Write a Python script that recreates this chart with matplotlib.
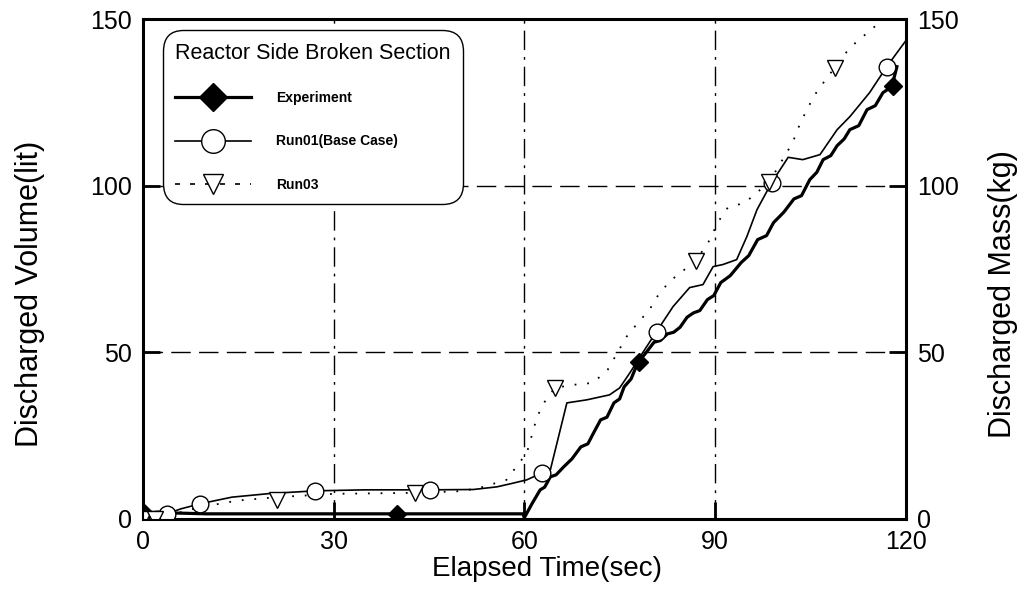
import matplotlib
matplotlib.use("Agg")
import matplotlib.pyplot as plt
from matplotlib.lines import Line2D

plt.rcParams['font.family'] = ['Liberation Sans', 'DejaVu Sans']

# experiment (thick stair-stepped line)
exp_t = [0, 10, 20, 30, 40, 50, 59.8, 60, 61.2, 62.5, 63.2, 64.1, 65.0, 66.2, 67.5, 68.9, 70.0, 70.9,
         72.0, 73.0, 74.1, 75.0, 75.7, 76.8, 77.9, 79.0, 80.4, 81.4, 82.5, 83.5, 84.5, 85.6, 86.6,
         87.6, 88.8, 89.8, 90.9, 92.4, 94.1, 95.3, 96.7, 98.1, 99.2, 100.8, 102.4, 103.6, 104.9,
         106.0, 107.0, 108.2, 109.2, 110.3, 111.2, 112.6, 113.9, 115.2, 116.4, 117.8, 118.6]
exp_v = [2, 1.5, 1.5, 1.5, 1.5, 1.5, 1.5, 0.3, 4.5, 8.7, 9.5, 12.6, 13.2, 15.6, 18.0, 21.6, 22.5, 25.8,
         29.7, 30.5, 34.8, 36.0, 39.6, 42.0, 47.1, 49.5, 53.0, 53.5, 55.5, 56.0, 57.5, 60.5, 61.8,
         62.5, 65.8, 67.0, 70.9, 73.0, 76.9, 79.0, 83.8, 85.0, 88.9, 92.0, 96.0, 97.0, 101.8,
         104.0, 107.8, 109.0, 112.0, 114.0, 116.8, 118.0, 122.8, 124.0, 127.9, 129.7, 135.7]
exp_mark_t = [0, 40, 78, 118]
exp_mark_v = [2, 1.5, 47, 130]

# Run01 (base case)
run01_t = [0, 2.2, 3.8, 6, 9.0, 14, 20, 27.1, 35, 45.1, 52, 55.7, 58, 60.4, 62.8, 64.1, 66.7, 69.8,
           73.4, 75.0, 76.6, 78.6, 80.8, 83.4, 86.0, 88.1, 89.7, 91.2, 93.4, 95.0, 96.6, 98.9, 101.5,
           103.8, 106.5, 109.2, 111.2, 114.3, 117.0, 120]
run01_v = [0, 0, 1.5, 3, 4.5, 6.5, 7.6, 8.4, 8.7, 8.7, 8.8, 9.6, 10.6, 11.7, 13.8, 14.7, 34.8, 35.7,
           37.2, 39.3, 43.8, 49.8, 56.2, 63.7, 69.4, 70.3, 75.7, 76.3, 77.8, 84.7, 92.8, 100.9, 108.5,
           107.8, 109.3, 116.8, 120.7, 127.9, 135.7, 143.5]
run01_mark_t = [0, 2.2, 3.8, 9.0, 27.1, 45.1, 62.8, 80.8, 98.9, 117.0]
run01_mark_v = [0, 0, 1.5, 4.5, 8.4, 8.7, 13.8, 56.2, 100.9, 135.7]

# Run03
run03_t = [0, 2, 4, 9, 15, 21.1, 30, 42.8, 50, 53, 57.2, 60.4, 61.3, 62.0, 63.2, 64.8, 67.6, 70.8,
           73.1, 76.1, 77.9, 79.7, 81.3, 83.2, 85.6, 87.0, 89.2, 90.4, 92.0, 94.7, 98.5, 102.2,
           103.3, 104.6, 106.0, 108.8, 111.2, 113.6, 116.5]
run03_v = [0, 0, 1, 3.5, 5.5, 6.5, 7.5, 7.8, 8.3, 9.3, 11.7, 19.8, 25.8, 30.6, 35.1, 39.3, 40.2, 40.8,
           44.7, 54.7, 58.9, 62.8, 67.9, 71.8, 75.4, 77.5, 83.8, 88.9, 93.4, 94.9, 101, 112.9,
           118.3, 123.4, 128.2, 135.4, 141.4, 145.3, 150]
run03_mark_t = [0, 2, 21.1, 42.8, 64.8, 87.0, 98.5, 108.8]
run03_mark_v = [0, 0, 5.7, 7.8, 39.3, 77.5, 101, 135.4]

x_ticks = [0, 30, 60, 90, 120]
y_ticks = [0, 50, 100, 150]

fig = plt.figure(figsize=(10.27, 6.14), dpi=100)
ax = fig.add_axes([0.139, 0.155, 0.743, 0.814])

for t in x_ticks[1:-1]:
    ax.axvline(t, color='black', lw=1.0, dashes=(14, 5, 2, 5), zorder=1)
for v in y_ticks[1:-1]:
    ax.axhline(v, color='black', lw=1.0, dashes=(14, 6), zorder=1)

ax.plot(exp_t, exp_v, color='black', lw=2.3, zorder=3)
ax.plot(exp_mark_t, exp_mark_v, ls='none', marker='D', ms=9, color='black', zorder=4)

ax.plot(run01_t, run01_v, color='black', lw=1.2, zorder=3)
ax.plot(run01_mark_t, run01_mark_v, ls='none', marker='o', ms=12, mfc='white',
        mec='black', mew=1.0, zorder=4)

ax.plot(run03_t, run03_v, color='black', lw=1.3, ls=(0, (1, 6)), zorder=3)
ax.plot(run03_mark_t, run03_mark_v, ls='none', marker='v', ms=11, mfc='white',
        mec='black', mew=1.0, zorder=4)

ax.set_xlim(0, 120)
ax.set_ylim(0, 150)
ax.set_xticks(x_ticks)
ax.set_yticks(y_ticks)
ax.tick_params(direction='in', length=12, width=2, labelsize=18, pad=8)
for s in ax.spines.values():
    s.set_linewidth(2.2)
ax.set_xlabel('Elapsed Time(sec)', fontsize=20, labelpad=4)
ax.xaxis.set_label_coords(0.53, -0.075)
ax.set_ylabel('Discharged Volume(lit)', fontsize=22, labelpad=12)
ax.yaxis.set_label_coords(-0.128, 0.45)

ax2 = ax.twinx()
ax2.set_ylim(0, 150)
ax2.set_yticks(y_ticks)
ax2.tick_params(direction='in', length=12, width=2, labelsize=18, pad=8)
ax2.set_ylabel('Discharged Mass(kg)', fontsize=22, labelpad=12)
ax2.yaxis.set_label_coords(1.108, 0.45)

handles = [
    Line2D([], [], color='black', lw=2.3, marker='D', ms=14),
    Line2D([], [], color='black', lw=1.2, marker='o', ms=17, mfc='white', mec='black'),
    Line2D([], [], color='black', lw=1.2, ls=(0, (3, 6)), marker='v', ms=14,
           mfc='white', mec='black'),
]
labels = ['Experiment', 'Run01(Base Case)', 'Run03']
leg = ax.legend(handles, labels, title='Reactor Side Broken Section', loc='upper left',
                bbox_to_anchor=(0.026, 0.978), borderaxespad=0, fontsize=10,
                title_fontsize=15.5, handlelength=5.5, handletextpad=1.8, labelspacing=2.1,
                borderpad=0.9, fancybox=True, framealpha=1, edgecolor='black',
                alignment='left')
leg._legend_box.sep = 20
leg.get_frame().set_linewidth(1.0)
leg.get_frame().set_boxstyle('round', pad=0.0, rounding_size=1.5)
for txt in leg.get_texts():
    txt.set_fontweight('bold')
leg.set_zorder(10)

fig.savefig('out.png', dpi=100)
